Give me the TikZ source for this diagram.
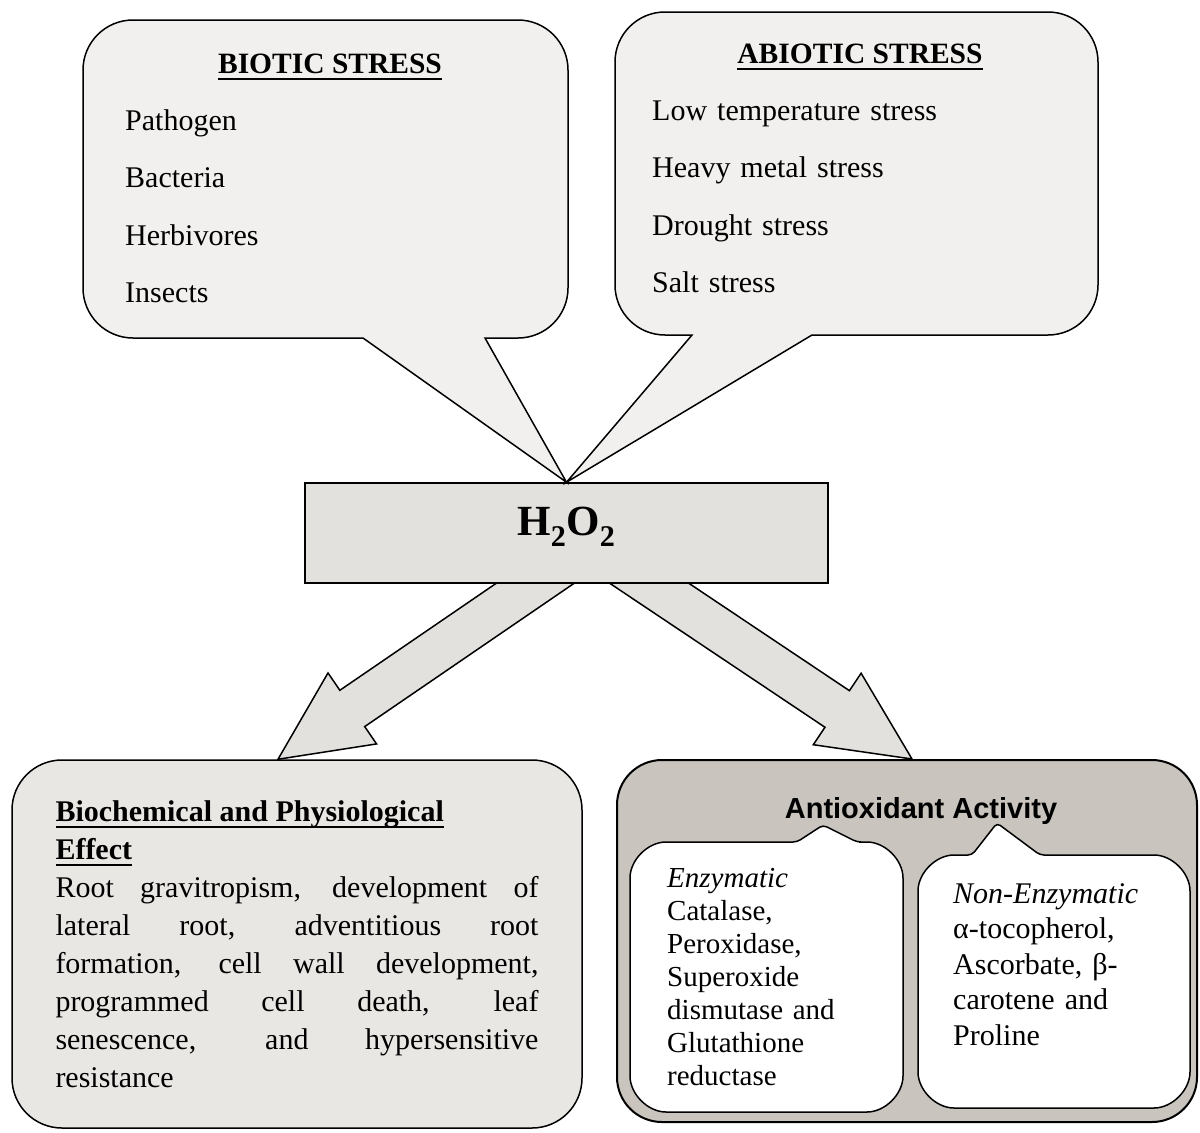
\documentclass[tikz,border=0pt]{standalone}
\usepackage{fontspec}
\setmainfont{Liberation Serif}
\setsansfont{Liberation Sans}
\usetikzlibrary{calc,backgrounds}
\definecolor{bubblegray}{RGB}{241,240,238}
\definecolor{boxgray}{RGB}{227,225,221}
\definecolor{effectgray}{RGB}{233,231,228}
\definecolor{antigray}{RGB}{201,197,190}
\newcommand{\undl}[1]{\setbox0\hbox{#1}\rlap{\rule[-6.5pt]{\wd0}{1.5pt}}\box0}

\begin{document}
\begin{tikzpicture}[x=1pt, y=-1pt]
\tikzstyle{bubble} = [draw=black, line width=1.5pt, fill=bubblegray]
\tikzstyle{inbox} = [draw=black, line width=1.5pt, fill=white, rounded corners=4pt]
\tikzstyle{blockarr} = [draw=black, line width=1.5pt, fill=boxgray]
\tikzstyle{stresstitle} = [anchor=base, font=\fontsize{29.5}{34}\selectfont\bfseries]
\tikzstyle{stresslist} = [anchor=base west, text width=330pt, align=left, inner sep=0pt, font=\fontsize{30}{57.5}\selectfont]

\useasboundingbox (0,0) rectangle (1200,1133);

\node (h2o2) [rectangle, draw=black, line width=1.5pt, fill=boxgray, minimum width=523pt, minimum height=100pt, inner sep=0pt, text depth=24pt, font=\fontsize{43}{43}\selectfont\bfseries] at (566.5,533) {H\textsubscript{2}O\textsubscript{2}};

\node (effect) [rectangle, rounded corners=50pt, draw=black, line width=1.5pt, fill=effectgray, minimum width=570pt, minimum height=368pt, text width=483pt, align=justify, font=\fontsize{30}{38}\selectfont] at (297,944) {\textbf{\undl{Biochemical and Physiological}}\\ \textbf{\undl{Effect}}\\ Root gravitropism, development of\linebreak lateral root, adventitious root\linebreak formation, cell wall development,\linebreak programmed cell death, leaf\linebreak senescence, and hypersensitive\linebreak resistance};

\node (anti) [rectangle, rounded corners=45pt, draw=black, line width=2pt, fill=antigray, minimum width=580pt, minimum height=362pt] at (907,941) {};

% stress bubbles
\draw[bubble] (83,70) arc[start angle=180, end angle=270, radius=50] -- (518,20) arc[start angle=270, end angle=360, radius=50] -- (568,288) arc[start angle=0, end angle=90, radius=50] -- (485,338) -- (h2o2.north) -- (363,338) -- (133,338) arc[start angle=90, end angle=180, radius=50] -- cycle;
\draw[bubble] (615,62) arc[start angle=180, end angle=270, radius=50] -- (1048,12) arc[start angle=270, end angle=360, radius=50] -- (1098,285) arc[start angle=0, end angle=90, radius=50] -- (812,335) -- (h2o2.north) -- (692,335) -- (665,335) arc[start angle=90, end angle=180, radius=50] -- cycle;

\node (biotic) [stresstitle] at (330,73) {\undl{BIOTIC STRESS}};
\node (bioticlist) [stresslist] at (125,130) {Pathogen\\Bacteria\\Herbivores\\Insects};
\node (abiotic) [stresstitle] at (860,63) {\undl{ABIOTIC STRESS}};
\node (abioticlist) [stresslist] at (652,120) {Low temperature stress\\Heavy metal stress\\Drought stress\\Salt stress};

% antioxidant inner boxes
\node (antititle) [anchor=base, font=\sffamily\bfseries\fontsize{29}{29}\selectfont] at (921,818) {Antioxidant Activity};
\draw[inbox] (630,882) arc[start angle=180, end angle=270, radius=40] -- (797,842) -- (823,825) -- (857,842) -- (863,842) arc[start angle=270, end angle=360, radius=40] -- (903,1072) arc[start angle=0, end angle=90, radius=40] -- (670,1112) arc[start angle=90, end angle=180, radius=40] -- cycle;
\draw[inbox] (918,895) arc[start angle=180, end angle=270, radius=40] -- (972,855) -- (997,823) -- (1040,855) -- (1150,855) arc[start angle=270, end angle=360, radius=40] -- (1190,1068) arc[start angle=0, end angle=90, radius=40] -- (958,1108) arc[start angle=90, end angle=180, radius=40] -- cycle;

\node (enz) [anchor=base west, text width=230pt, align=left, inner sep=0pt, font=\fontsize{29}{33}\selectfont] at (667,887) {\textit{Enzymatic}\\Catalase,\\Peroxidase,\\Superoxide\\dismutase and\\Glutathione\\reductase};
\node (nonenz) [anchor=base west, text width=230pt, align=left, inner sep=0pt, font=\fontsize{30}{35.5}\selectfont] at (953,903) {\textit{Non-Enzymatic}\\α-tocopherol,\\Ascorbate, β-\\carotene and\\Proline};

% block arrows
\coordinate (ltail) at ($(h2o2.south)+(-32,0)$);
\coordinate (ltip) at ($(effect.north)+(-19,0)$);
\coordinate (lstart) at ($(ltail)!-60pt!(ltip)$);
\coordinate (lneck) at ($(ltip)!90pt!(ltail)$);
\coordinate (rtail) at ($(h2o2.south)+(83.5,0)$);
\coordinate (rtip) at ($(anti.north)+(5,0)$);
\coordinate (rstart) at ($(rtail)!-60pt!(rtip)$);
\coordinate (rneck) at ($(rtip)!90pt!(rtail)$);
\begin{scope}[on background layer]
\draw[blockarr] ($(lstart)!22pt!90:(ltip)$) -- ($(lneck)!22pt!-90:(lstart)$) -- ($(lneck)!43pt!-90:(lstart)$) -- (ltip) -- ($(lneck)!43pt!90:(lstart)$) -- ($(lneck)!22pt!90:(lstart)$) -- ($(lstart)!22pt!-90:(ltip)$) -- cycle;
\draw[blockarr] ($(rstart)!22pt!90:(rtip)$) -- ($(rneck)!22pt!-90:(rstart)$) -- ($(rneck)!43pt!-90:(rstart)$) -- (rtip) -- ($(rneck)!43pt!90:(rstart)$) -- ($(rneck)!22pt!90:(rstart)$) -- ($(rstart)!22pt!-90:(rtip)$) -- cycle;
\end{scope}

\end{tikzpicture}
\end{document}
